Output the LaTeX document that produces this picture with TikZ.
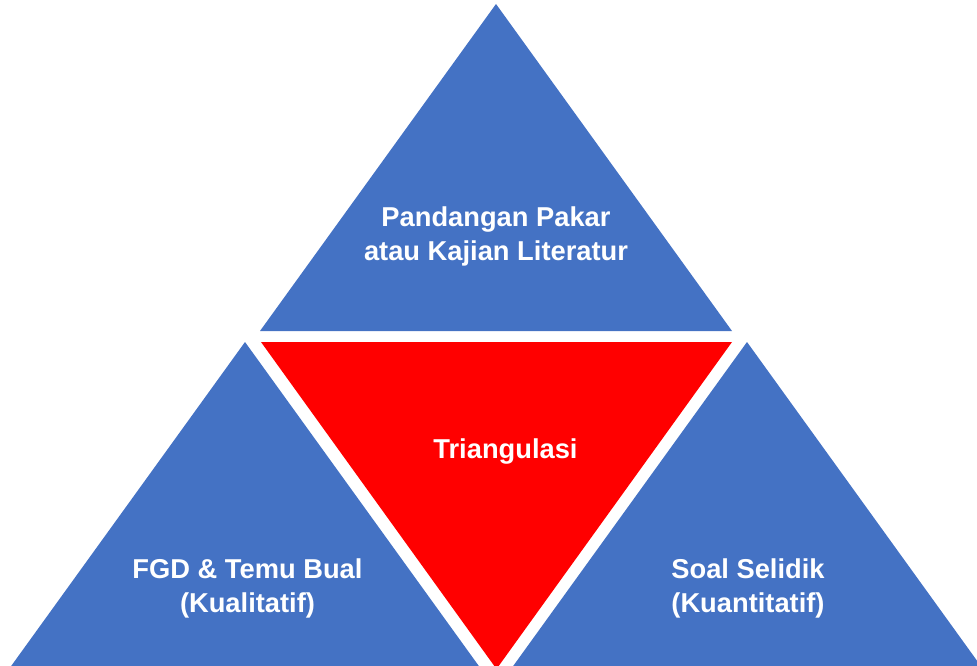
\documentclass[tikz,border=0pt]{standalone}
\usepackage{fontspec}
\setmainfont{Liberation Sans}
\definecolor{tribl}{HTML}{4472C4}
\definecolor{trird}{HTML}{FF0000}
\tikzset{
  bluetri/.style={fill=tribl, draw=none},
  redtri/.style={fill=trird, draw=none},
  lbl/.style={text=white, font=\fontsize{27.3}{34}\selectfont\bfseries, align=center, inner sep=0pt, anchor=base}
}
\begin{document}
\begin{tikzpicture}[x=1pt, y=-1pt]
  \useasboundingbox (0,0) rectangle (977,666);
  \clip (0,0) rectangle (977,666);
  % upper triangle
  \fill[bluetri] (496,4) -- (260,331) -- (732,331) -- cycle;
  % central inverted triangle
  \fill[redtri] (261,342) -- (732,342) -- (496.5,669) -- cycle;
  % lower left and lower right triangles
  \fill[bluetri] (245,342) -- (9,669) -- (481,669) -- cycle;
  \fill[bluetri] (747,342) -- (511,669) -- (983,669) -- cycle;
  % labels (base anchor sits on the last line)
  \node[lbl] (pakar) at (496,260) {Pandangan Pakar\\atau Kajian Literatur};
  \node[lbl] (trian) at (505.5,458) {Triangulasi};
  \node[lbl] (fgd) at (247.5,612) {FGD \& Temu Bual\\(Kualitatif)};
  \node[lbl] (soal) at (748,612) {Soal Selidik\\(Kuantitatif)};
\end{tikzpicture}
\end{document}
